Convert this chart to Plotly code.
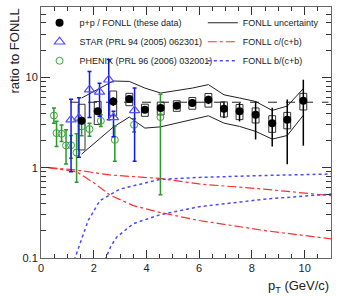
import numpy as np
import plotly.graph_objects as go

# p+p / FONLL (these data)
pp_x = [1.54, 2.15, 2.74, 3.35, 3.94, 4.54, 5.15, 5.74, 6.35, 6.94, 7.53, 8.14, 8.77, 9.34, 9.95]
pp_y = [3.30, 4.20, 5.40, 5.75, 4.37, 4.57, 4.85, 5.20, 5.65, 4.49, 4.20, 3.85, 3.11, 3.39, 5.50]
pp_stat_hi = [0.3, 0.3, 0.6, 0.4, 0.3, 0.35, 0.3, 0.5, 0.6, 0.9, 1.0, 1.55, 1.5, 2.3, 3.9]
pp_stat_lo = [0.3, 0.3, 0.6, 0.4, 0.3, 0.35, 0.3, 0.5, 0.6, 0.95, 0.95, 1.8, 1.4, 2.3, 3.75]
pp_sys = [1.73, 1.2, 1.65, 0.9, 0.67, 0.74, 0.65, 0.77, 0.97, 0.85, 0.8, 0.73, 0.65, 0.7, 1.15]
box_halfwidth = 0.13

# STAR (PRL 94 (2005) 062301)
star_x = [1.14, 1.44, 1.84, 2.22, 2.57, 2.75, 3.55]
star_y = [3.4, 3.55, 7.3, 6.9, 9.4, 3.6, 4.3]
star_hi = [2.3, 2.4, 4.3, 1.7, 6.3, 0.6, 3.3]
star_lo = [2.5, 2.25, 3.7, 3.2, 6.0, 1.4, 3.12]

# PHENIX (PRL 96 (2006) 032001)
phx_x = [0.49, 0.59, 0.78, 0.95, 1.14, 1.35, 1.54, 1.84, 2.27, 2.8, 3.53, 4.53]
phx_y = [3.78, 2.41, 2.37, 1.76, 1.77, 1.47, 2.86, 2.67, 3.3, 2.03, 2.98, 3.63]
phx_hi = [0.79, 0.85, 0.6, 0.87, 0.5, 0.9, 0.6, 0.44, 0.56, 0.87, 0.5, 2.87]
phx_lo = [0.67, 0.7, 0.42, 0.66, 0.5, 0.78, 0.6, 0.45, 0.44, 0.85, 0.5, 3.13]

# FONLL uncertainty band
fonll_x = pp_x
fonll_hi = [5.9, 7.3, 9.1, 9.0, 7.6, 6.7, 7.1, 7.6, 8.3, 6.4, 5.9, 5.4, 4.3, 4.8, 7.5]
fonll_lo = [1.41, 2.0, 2.81, 3.63, 2.74, 2.83, 3.1, 3.4, 3.75, 3.11, 2.86, 2.52, 2.07, 2.27, 3.8]

# constant fit
fit_x = [1.1, 10.9]
fit_y = [5.3, 5.3]

# FONLL c/(c+b)
c_hi_x = [0.28, 1.35, 2.6, 4.5, 6.0, 8.55, 11.0]
c_hi_y = [1.0, 0.94, 0.83, 0.76, 0.66, 0.575, 0.49]
c_lo_x = [0.28, 1.35, 2.0, 2.6, 3.5, 4.5, 6.0, 8.55, 11.0]
c_lo_y = [1.0, 0.9, 0.68, 0.5, 0.38, 0.32, 0.26, 0.2, 0.163]

# FONLL b/(c+b)
b_hi_x = [1.2, 1.29, 1.5, 1.79, 2.23, 3.0, 4.5, 6.0, 8.55, 11.0]
b_hi_y = [0.07, 0.1, 0.15, 0.26, 0.43, 0.58, 0.74, 0.78, 0.82, 0.85]
b_lo_x = [2.35, 2.46, 2.65, 2.87, 3.5, 4.5, 6.0, 8.55, 11.0]
b_lo_y = [0.07, 0.1, 0.135, 0.17, 0.24, 0.3, 0.37, 0.45, 0.51]

RED = "#ff3030"
BLUE = "#4a4aff"
GREEN = "#3aa53a"

fig = go.Figure()

# systematic boxes
bx, by = [], []
for x, y, s in zip(pp_x, pp_y, pp_sys):
    x0, x1 = x - box_halfwidth, x + box_halfwidth
    bx += [x0, x1, x1, x0, x0, None]
    by += [y - s, y - s, y + s, y + s, y - s, None]
fig.add_trace(go.Scatter(x=bx, y=by, mode="lines", line=dict(color="#333", width=1),
                         showlegend=False, hoverinfo="skip"))

# FONLL uncertainty
fig.add_trace(go.Scatter(x=fonll_x, y=fonll_hi, mode="lines", line=dict(color="#222", width=1),
                         name="FONLL uncertainty", legend="legend2", legendrank=1))
fig.add_trace(go.Scatter(x=fonll_x, y=fonll_lo, mode="lines", line=dict(color="#222", width=1),
                         showlegend=False))

# fit line
fig.add_trace(go.Scatter(x=fit_x, y=fit_y, mode="lines", line=dict(color="#222", width=1, dash="dash"),
                         showlegend=False))

# c/(c+b)
fig.add_trace(go.Scatter(x=c_hi_x, y=c_hi_y, mode="lines", line=dict(color=RED, width=1.2, dash="dashdot"),
                         name="FONLL c/(c+b)", legend="legend2", legendrank=2))
fig.add_trace(go.Scatter(x=c_lo_x, y=c_lo_y, mode="lines", line=dict(color=RED, width=1.2, dash="dashdot"),
                         showlegend=False))
# b/(c+b)
fig.add_trace(go.Scatter(x=b_hi_x, y=b_hi_y, mode="lines", line=dict(color=BLUE, width=1.5, dash="dot"),
                         name="FONLL b/(c+b)", legend="legend2", legendrank=3))
fig.add_trace(go.Scatter(x=b_lo_x, y=b_lo_y, mode="lines", line=dict(color=BLUE, width=1.5, dash="dot"),
                         showlegend=False))

# PHENIX
fig.add_trace(go.Scatter(x=phx_x, y=phx_y, mode="markers", name="PHENIX (PRL 96 (2006) 032001)",
                         marker=dict(symbol="circle-open", size=7, color=GREEN, line=dict(width=1)),
                         error_y=dict(type="data", array=phx_hi, arrayminus=phx_lo, color="#2a9a2a",
                                      thickness=1.5, width=2),
                         legend="legend", legendrank=3))
# STAR
fig.add_trace(go.Scatter(x=star_x, y=star_y, mode="markers", name="STAR (PRL 94 (2005) 062301)",
                         marker=dict(symbol="triangle-up-open", size=9, color="#5050ff", line=dict(width=1.2)),
                         error_y=dict(type="data", array=star_hi, arrayminus=star_lo, color="#1515ee",
                                      thickness=1.5, width=2),
                         legend="legend", legendrank=2))
# p+p
fig.add_trace(go.Scatter(x=pp_x, y=pp_y, mode="markers", name="p+p / FONLL (these data)",
                         marker=dict(symbol="circle", size=8, color="black"),
                         error_y=dict(type="data", array=pp_stat_hi, arrayminus=pp_stat_lo, color="black",
                                      thickness=1.5, width=0),
                         legend="legend", legendrank=1))

minor_y = [v * m for m in (0.1, 1, 10) for v in range(2, 10) if v * m < 60]

legend_common = dict(bgcolor="rgba(0,0,0,0)", font=dict(size=9, color="#222"),
                     itemwidth=30, tracegroupgap=0, orientation="v", traceorder="normal",
                     xanchor="left", yanchor="top", borderwidth=0)

fig.update_layout(
    width=341, height=297,
    margin=dict(l=41, r=10, t=7, b=39, autoexpand=False),
    plot_bgcolor="white", paper_bgcolor="white",
    font=dict(family="Liberation Sans, Arial, sans-serif", size=11, color="#222"),
    legend=dict(x=-0.005, y=0.995, **legend_common),
    legend2=dict(x=0.558, y=0.995, **legend_common),
    showlegend=True,
)
fig.update_xaxes(range=[0, 11], tickvals=[0, 2, 4, 6, 8, 10], ticks="inside", ticklen=8,
                 tickcolor="#333", showline=True, linecolor="#666", linewidth=1, mirror="ticks",
                 showgrid=False, zeroline=False, tickfont=dict(size=11),
                 minor=dict(ticks="inside", dtick=0.5, ticklen=4, tickcolor="#333", showgrid=False))
fig.update_yaxes(type="log", range=[-1, np.log10(60)], tickvals=[0.1, 1, 10], ticktext=["0.1", "1", "10"],
                 ticks="inside", ticklen=9, tickcolor="#333", showline=True, linecolor="#666",
                 linewidth=1, mirror="ticks", showgrid=False, zeroline=False, tickfont=dict(size=11),
                 minor=dict(ticks="inside", tickvals=minor_y, ticklen=5, tickcolor="#333", showgrid=False))

fig.add_annotation(text="p<sub>T</sub> (GeV/c)", xref="paper", yref="paper", x=1.0, y=-0.07,
                   xanchor="right", yanchor="top", showarrow=False, font=dict(size=13, color="#222"))
fig.add_annotation(text="ratio to FONLL", xref="paper", yref="paper", x=-27 / 290, y=1.0,
                   xanchor="center", yanchor="top", textangle=-90, showarrow=False,
                   font=dict(size=13, color="#222"))

fig.write_html("out.html", config={"displayModeBar": False},
               post_script="document.body.style.margin='0px';document.body.style.padding='0px';")
